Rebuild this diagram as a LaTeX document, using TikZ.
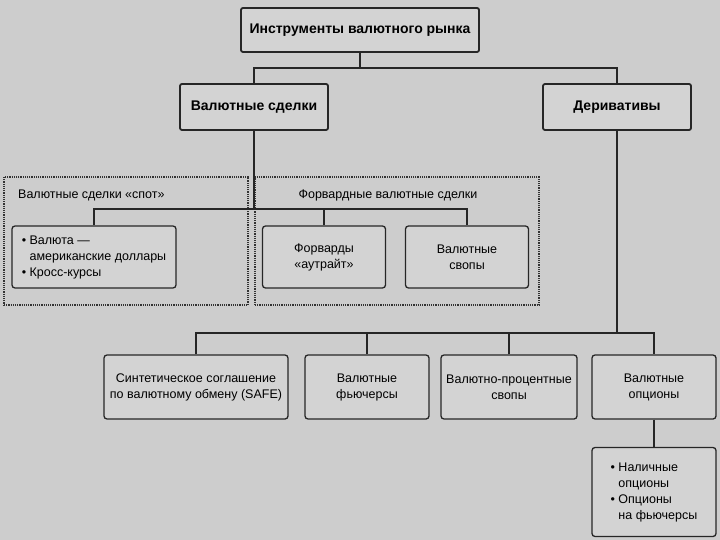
\documentclass[tikz,border=0pt]{standalone}
\usepackage{fontspec}
\setmainfont{Liberation Sans}
\usetikzlibrary{calc,positioning}
\definecolor{scan}{RGB}{205,205,205}
\definecolor{boxfill}{RGB}{211,211,211}

\begin{document}
\begin{tikzpicture}[x=1pt,y=-1pt,font=\fontsize{12.5}{16}\selectfont,
  every node/.style={inner sep=2pt,align=center},
  headbox/.style={draw=black!85,line width=1.8pt,rounded corners=2pt,fill=boxfill,font=\fontsize{14}{16}\selectfont\bfseries},
  leafbox/.style={draw=black!85,line width=1.3pt,rounded corners=3pt,fill=boxfill},
  group/.style={draw=black!80,line width=1.1pt,dash pattern=on 1.2pt off 1pt},
  link/.style={black!85,line width=1.3pt}]
  \fill[scan] (0,0) rectangle (720,540);
  \useasboundingbox (0,0) rectangle (720,540);
  % dashed groups
  \node[group,minimum width=244pt,minimum height=128pt] (spot) at (126,241) {};
  \node[group,minimum width=284pt,minimum height=128pt] (fwd) at (397,241) {};
  \node[anchor=west] (spotlbl) at (16,195) {Валютные сделки «спот»};
  \node (fwdlbl) at (388,195) {Форвардные валютные сделки};
  % junctions
  \coordinate (j1) at (360,68);
  \coordinate (j2) at (254,209);
  \coordinate (j3) at (617,333);
  % boxes
  \node[headbox,minimum width=238pt,minimum height=44pt] (root) at (360,30) {Инструменты валютного рынка};
  \node[headbox,minimum width=148pt,minimum height=46pt] (deals) at (254,107) {Валютные сделки};
  \node[headbox,minimum width=148pt,minimum height=46pt] (deriv) at (617,107) {Деривативы};
  \node[leafbox,minimum width=164pt,minimum height=62pt,align=left] (cash) at (94,257)
    {\textbullet\ Валюта —\\\phantom{\textbullet\ }американские доллары\\\textbullet\ Кросс-курсы};
  \node[leafbox,minimum width=123pt,minimum height=62pt] (fwds) at (324,257) {Форварды\\«аутрайт»};
  \node[leafbox,minimum width=123pt,minimum height=62pt] (swaps) at (467,257) {Валютные\\свопы};
  \node[leafbox,minimum width=184pt,minimum height=64pt] (safe) at (196,387) {Синтетическое соглашение\\по валютному обмену (SAFE)};
  \node[leafbox,minimum width=124pt,minimum height=64pt] (fut) at (367,387) {Валютные\\фьючерсы};
  \node[leafbox,minimum width=136pt,minimum height=64pt] (irs) at (509,387) {Валютно-процентные\\свопы};
  \node[leafbox,minimum width=124pt,minimum height=64pt] (opt) at (654,387) {Валютные\\опционы};
  \node[leafbox,minimum width=124pt,minimum height=89pt,align=left] (kinds) at (654,492)
    {\textbullet\ Наличные\\\phantom{\textbullet\ }опционы\\\textbullet\ Опционы\\\phantom{\textbullet\ }на фьючерсы};
  % connectors
  \draw[link] (root.south) -- (j1);
  \draw[link] (deals.north) |- (j1) -| (deriv.north);
  \draw[link] (deals.south) -- (j2);
  \draw[link] (cash.north) |- (swaps.north |- j2) -- (swaps.north);
  \draw[link] (fwds.north) -- (fwds.north |- j2);
  \draw[link] (deriv.south) -- (j3);
  \draw[link] (safe.north) |- (opt.north |- j3) -- (opt.north);
  \draw[link] (fut.north) -- (fut.north |- j3);
  \draw[link] (irs.north) -- (irs.north |- j3);
  \draw[link] (opt.south) -- (kinds.north);
\end{tikzpicture}
\end{document}
